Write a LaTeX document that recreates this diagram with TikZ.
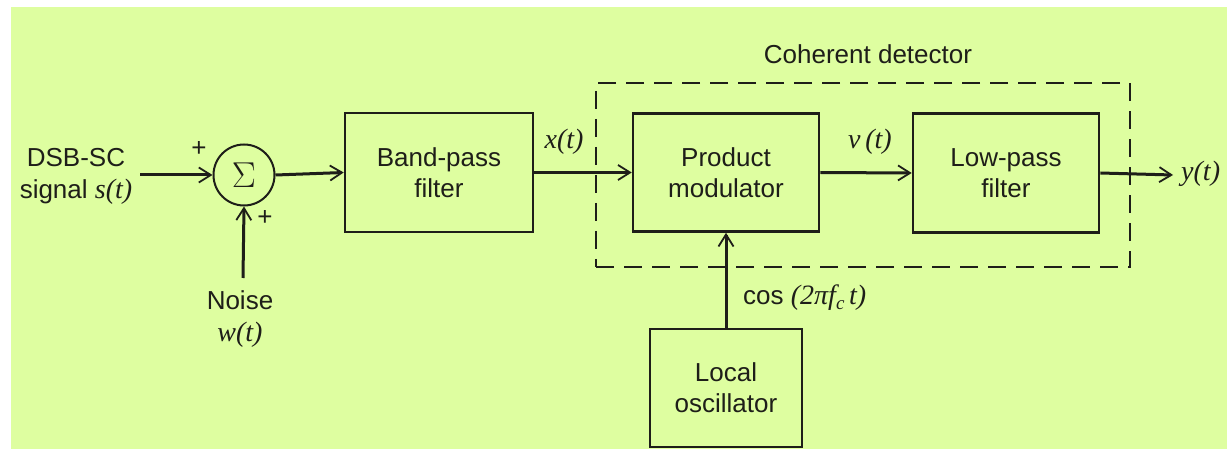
\RequirePackage{fix-cm}
\documentclass[tikz,border=0pt]{standalone}
\usepackage{fontspec}
\setmainfont{Liberation Sans}
\newfontfamily\tms{Liberation Serif}
\usetikzlibrary{arrows.meta}
\definecolor{bg}{RGB}{222,254,160}
\definecolor{ink}{RGB}{30,30,25}
\newcommand\mth[1]{{\tms\itshape\fontsize{28}{31}\selectfont #1}}
\tikzset{
  blk/.style={draw=ink, line width=2.6pt, minimum width=#1, inner sep=0pt, align=center, text=ink, font=\fontsize{26}{31}\selectfont},
  sig/.style={draw=ink, line width=3pt, -{Straight Barb[length=12pt,width=15pt,line width=1.8pt]}},
  lbl/.style={text=ink, font=\fontsize{26}{32}\selectfont, inner sep=0pt, align=center},
}
\begin{document}
\begin{tikzpicture}[x=1pt,y=-1pt]
\useasboundingbox (0,0) rectangle (1227,449);
\fill[bg] (11,7) rectangle (1227,449);
% blocks
\node[blk=188pt, minimum height=119pt] (bpf) at (439,172.5) {Band-pass\\filter};
\node[blk=186pt, minimum height=118pt] (pm) at (726,172.5) {Product\\modulator};
\node[blk=186pt, minimum height=119pt] (lpf) at (1006,173) {Low-pass\\filter};
\node[blk=152pt, minimum height=118pt] (osc) at (726,388) {Local\\oscillator};
% summer
\node[draw=ink, line width=2pt, circle, minimum size=61pt, inner sep=0pt, text=ink, font=\fontsize{36}{36}\selectfont] (sum) at (244,175) {$\Sigma$};
% dashed coherent detector box
\node[draw=ink, line width=2.4pt, dash pattern=on 18pt off 10pt, minimum width=534pt, minimum height=184pt, inner sep=0pt] (cd) at (863,175) {};
\node[lbl] (cdl) at (868,54) {Coherent detector};
% inputs and labels
\node[lbl] (in) at (76,176) {DSB-SC\\signal \mth{s(t)}};
\node[lbl] (noise) at (240,319) {Noise\\\mth{w(t)}};
\coordinate (inS) at (140,175);
\coordinate (nzS) at (243,278);
\coordinate (yE) at (1173,175);
\node[lbl, anchor=west] (yl) at (1181,174) {\mth{y(t)}};
\node[lbl] (xl) at (564,142) {\mth{x(t)}};
\node[lbl] (vl) at (870,142) {\mth{v\,(t)}};
\node[lbl, anchor=west] (cosl) at (743,298) {cos \mth{(2πf\raisebox{-5pt}{\fontsize{19}{19}\selectfont c}\,t)}};
\node[lbl] (p1) at (199,149) {+};
\node[lbl] (p2) at (265,218) {+};
% connectors
\draw[sig] (inS) -- (sum.west);
\draw[sig] (nzS) -- (sum.south);
\draw[sig] (sum.east) -- (bpf.west);
\draw[sig] (bpf.east) -- (pm.west);
\draw[sig] (pm.east) -- (lpf.west);
\draw[sig] (lpf.east) -- (yE);
\draw[sig] (osc.north) -- (pm.south);
\end{tikzpicture}
\end{document}
